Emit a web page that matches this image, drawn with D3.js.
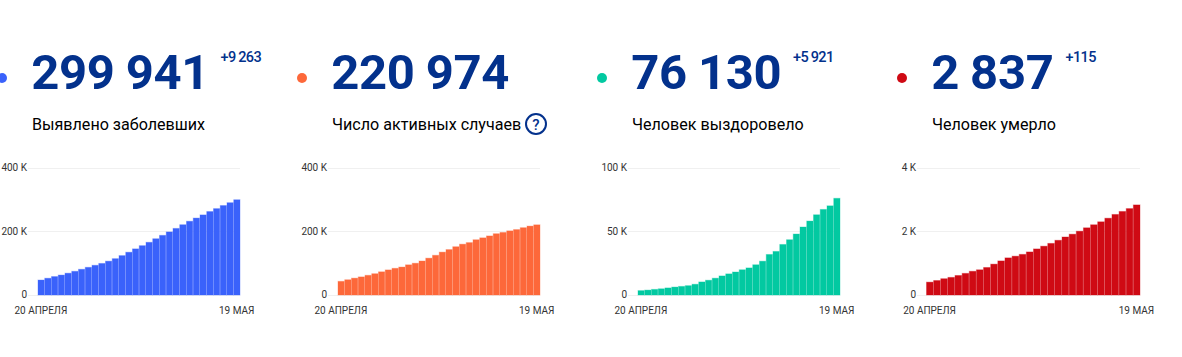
<!DOCTYPE html>
<html><head><meta charset="utf-8">
<script src="https://cdn.jsdelivr.net/npm/d3@7"></script>
<style>
html,body{margin:0;padding:0;background:#fff;overflow:hidden}
svg{display:block;font-family:Roboto,sans-serif}
</style></head><body>
<svg id="c" width="1182" height="357"></svg>
<script>
const days = ["20 АПРЕЛЯ","21 АПРЕЛЯ","22 АПРЕЛЯ","23 АПРЕЛЯ","24 АПРЕЛЯ","25 АПРЕЛЯ","26 АПРЕЛЯ","27 АПРЕЛЯ","28 АПРЕЛЯ","29 АПРЕЛЯ","30 АПРЕЛЯ",
  "1 МАЯ","2 МАЯ","3 МАЯ","4 МАЯ","5 МАЯ","6 МАЯ","7 МАЯ","8 МАЯ","9 МАЯ","10 МАЯ","11 МАЯ","12 МАЯ","13 МАЯ","14 МАЯ","15 МАЯ","16 МАЯ","17 МАЯ","18 МАЯ","19 МАЯ"];
const xLabels = ["20 АПРЕЛЯ","19 МАЯ"];

const confirmed = [47121,52763,57999,62773,68622,74588,80949,87147,93558,99399,106498,114431,124054,134687,145268,155370,165929,177160,187859,198676,209688,221344,232243,242271,252245,262843,272043,281752,290678,299941];
const active = [43000,48000,53000,57000,62000,67000,73000,79000,84000,88000,95000,100000,107000,116000,125000,135000,143000,152000,160000,165000,174000,180000,186000,193000,197000,202000,206000,212000,217000,220974];
const recovered = [3446,3873,4420,4891,5568,6250,6767,7346,8456,10286,11619,13220,15013,16627,18095,19865,21327,23803,26608,31916,34306,39801,43512,48003,53530,58226,63166,67373,70209,76130];
const deaths = [405,456,513,555,615,681,747,794,867,972,1073,1169,1222,1280,1356,1451,1537,1625,1723,1827,1915,2009,2116,2212,2305,2418,2537,2631,2722,2837];

const totals = ["299 941","220 974","76 130","2 837"];
const deltas = ["+9 263","","+5 921","+115"];
const titles = ["Выявлено заболевших","Число активных случаев","Человек выздоровело","Человек умерло"];
const colors = ["#3a62fb","#fd683a","#02c9a1","#cf0a14"];
const seriesList = [confirmed,active,recovered,deaths];
const maxima = [400000,400000,100000,4000];
const ticksList = [[0,200000,400000],[0,200000,400000],[0,50000,100000],[0,2000,4000]];

// layout
const panelX = [32,332,632,932];
const barLeft = [37.5,337.5,637.5,926];
const barRight = [240,540,840,1140];
const gridLeft = [28,328,628,917];
const deltaX = [220.5,0,793,1065.5];
const navy = "#03318c";
const svg = d3.select("#c");
const y0 = 295, y1 = 168;
const fmtK = v => v === 0 ? "0" : (v/1000) + " K";

seriesList.forEach((vals,i)=>{
  const g = svg.append("g");
  g.append("circle").attr("cx",panelX[i]-30).attr("cy",78).attr("r",5).attr("fill",colors[i]);
  g.append("text").attr("x",panelX[i]-0.8).attr("y",89).attr("font-size",49).attr("font-weight",700)
    .attr("letter-spacing","-0.3").attr("word-spacing","-0.8")
    .attr("fill",navy).text(totals[i]);
  if(deltas[i]) g.append("text").attr("x",deltaX[i]).attr("y",62).attr("font-size",14.5).attr("font-weight",500)
    .attr("letter-spacing","-0.6").attr("word-spacing","-0.4").attr("fill",navy).text(deltas[i]);
  g.append("text").attr("x",panelX[i]).attr("y",130).attr("font-size",16.1).attr("fill","#000").text(titles[i]);
  if(i===1){
    g.append("circle").attr("cx",536).attr("cy",124).attr("r",10).attr("fill","none").attr("stroke",navy).attr("stroke-width",2);
    g.append("text").attr("x",536).attr("y",129.5).attr("text-anchor","middle").attr("font-size",15).attr("font-weight",500).attr("fill",navy).text("?");
  }

  const x = d3.scaleBand().domain(days).range([barLeft[i],barRight[i]]).paddingInner(0);
  const y = d3.scaleLinear().domain([0,maxima[i]]).range([y0,y1]);

  const ya = d3.axisLeft(y).tickValues(ticksList[i]).tickFormat(fmtK).tickSize(0).tickPadding(0);
  const ax = g.append("g").attr("transform",`translate(${gridLeft[i]-1},-0.5)`).call(ya);
  ax.select(".domain").remove();
  ax.selectAll("text").attr("font-size",10).attr("font-family","Roboto,sans-serif").attr("fill","#333");

  g.append("g").selectAll("line").data(ticksList[i]).join("line")
    .attr("x1",gridLeft[i]).attr("x2",barRight[i])
    .attr("y1",d=>Math.floor(y(d))+0.5).attr("y2",d=>Math.floor(y(d))+0.5)
    .attr("stroke","#f0f0f0");

  g.append("g").selectAll("rect").data(vals).join("rect")
    .attr("x",(d,k)=>x(days[k])+0.5)
    .attr("y",d=>y(d))
    .attr("width",x.bandwidth()-0.5)
    .attr("height",d=>y0-y(d))
    .attr("fill",colors[i])
    .attr("stroke",colors[i]).attr("stroke-opacity",0.35).attr("stroke-width",1);

  const xa = d3.axisBottom(x).tickValues(xLabels).tickSize(0).tickPadding(0);
  const xg = g.append("g").attr("transform","translate(0,306.6)").call(xa);
  xg.select(".domain").remove();
  xg.selectAll("text").attr("font-size",10).attr("font-family","Roboto,sans-serif").attr("fill","#333");
});
</script>
</body></html>
